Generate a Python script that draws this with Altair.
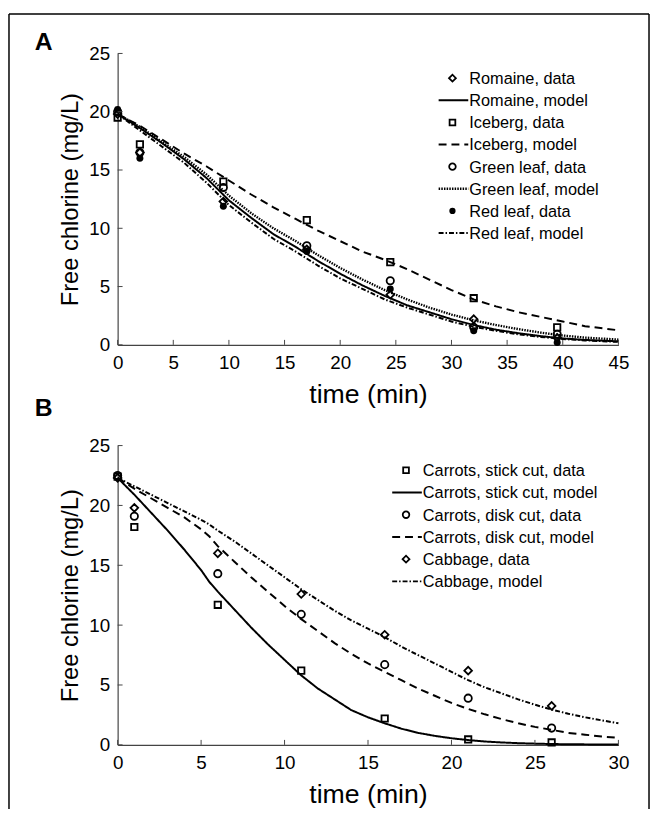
import altair as alt
import pandas as pd

FONT = "Liberation Sans"

# ---------------- Panel A data ----------------
a_time = [0, 2, 9.5, 17, 24.5, 32, 39.5]
a_romaine = [19.8, 16.5, 12.3, 8.2, 4.3, 2.2, 0.6]
a_iceberg = [19.5, 17.2, 14.0, 10.7, 7.1, 4.0, 1.5]
a_green = [20.0, 16.5, 13.5, 8.5, 5.5, 1.5, 0.9]
a_red = [20.2, 16.0, 11.9, 8.0, 4.8, 1.2, 0.2]

a_model_time = [0, 2, 4, 6, 8, 10, 12, 14, 16, 18, 20, 22, 24, 26, 28, 30, 32, 34, 36, 38, 40, 42, 45]
a_romaine_model = [19.8, 18.6, 17.3, 15.9, 14.3, 12.4, 10.9, 9.5, 8.4, 7.2, 6.1, 5.1, 4.2, 3.4, 2.8, 2.2, 1.7, 1.3, 1.0, 0.75, 0.55, 0.42, 0.3]
a_iceberg_model = [19.8, 18.8, 17.6, 16.4, 15.3, 14.1, 12.9, 11.8, 10.8, 9.8, 8.9, 8.0, 7.3, 6.5, 5.6, 4.7, 3.9, 3.3, 2.8, 2.4, 2.0, 1.6, 1.25]
a_green_model = [19.8, 18.7, 17.4, 16.1, 14.6, 12.8, 11.3, 10.0, 8.9, 7.7, 6.6, 5.6, 4.7, 3.9, 3.2, 2.6, 2.1, 1.7, 1.35, 1.05, 0.8, 0.62, 0.45]
a_red_model = [19.8, 18.4, 17.0, 15.6, 13.9, 12.0, 10.5, 9.1, 8.0, 6.8, 5.7, 4.8, 3.9, 3.2, 2.6, 2.0, 1.55, 1.2, 0.9, 0.68, 0.5, 0.38, 0.25]

a_legend = ["Romaine, data", "Romaine, model", "Iceberg, data", "Iceberg, model",
            "Green leaf, data", "Green leaf, model", "Red leaf, data", "Red leaf, model"]
a_xticks = [0, 5, 10, 15, 20, 25, 30, 35, 40, 45]

# ---------------- Panel B data ----------------
b_time = [0, 1, 6, 11, 16, 21, 26]
b_stick = [22.4, 18.2, 11.7, 6.2, 2.2, 0.45, 0.2]
b_disk = [22.5, 19.1, 14.3, 10.9, 6.7, 3.9, 1.4]
b_cabbage = [22.3, 19.8, 16.0, 12.6, 9.2, 6.2, 3.25]

b_model_time = [0, 1, 2, 3, 4, 5, 5.5, 6, 7, 8, 9, 10, 11, 12, 13, 14, 15, 16, 17, 18, 19, 20,
                21, 22, 23, 24, 25, 26, 27, 28, 29, 30]
b_stick_model = [22.3, 20.9, 19.4, 17.9, 16.3, 14.6, 13.6, 12.8, 11.3, 9.8, 8.4, 7.1, 5.8, 4.7, 3.8, 2.9,
                 2.3, 1.8, 1.35, 1.0, 0.75, 0.55, 0.4, 0.28, 0.2, 0.14, 0.1, 0.07, 0.05, 0.04, 0.03, 0.02]
b_disk_model = [22.3, 21.4, 20.6, 19.8, 19.0, 18.0, 17.4, 16.6, 15.3, 14.0, 12.8, 11.6, 10.5, 9.5, 8.5, 7.6,
                6.8, 6.1, 5.4, 4.7, 4.1, 3.5, 3.0, 2.55, 2.15, 1.8, 1.5, 1.25, 1.0, 0.85, 0.7, 0.58]
b_cabbage_model = [22.3, 21.6, 20.9, 20.2, 19.5, 18.8, 18.4, 17.9, 17.0, 16.0, 15.0, 14.0, 13.0, 12.1, 11.2, 10.4,
                   9.7, 9.0, 8.2, 7.5, 6.8, 6.1, 5.4, 4.8, 4.3, 3.8, 3.35, 2.95, 2.6, 2.3, 2.05, 1.8]

b_legend = ["Carrots, stick cut, data", "Carrots, stick cut, model", "Carrots, disk cut, data",
            "Carrots, disk cut, model", "Cabbage, data", "Cabbage, model"]
b_xticks = [0, 5, 10, 15, 20, 25, 30]

y_ticks = [0, 5, 10, 15, 20, 25]

# styles
MARK = {
    "diamond": dict(shape="diamond", filled=False, size=60),
    "square": dict(shape="square", filled=False, size=42),
    "circle": dict(shape="circle", filled=False, size=55),
    "dot": dict(shape="circle", filled=True, size=50),
}
DASH = {
    "solid": [1, 0],
    "dashed": [8, 5],
    "dotted": [1.5, 1.2],
    "dashdot": [5, 2, 1.5, 2],
}
ONE = pd.DataFrame({"k": [0]})


def panel(width, height, xmax, xticks, data_t, data_series, model_t, model_series,
          legend_labels, legend_styles, leg_x, leg_y, leg_dy, letter, border=False):
    xs = alt.Scale(domain=[0, xmax], nice=False, zero=False)
    ys = alt.Scale(domain=[0, 25], nice=False, zero=False)
    ax_x = alt.Axis(values=xticks, ticks=False, grid=False, domainColor="#444", domainWidth=1.2,
                    labelFont=FONT, labelFontSize=19, labelColor="black", labelPadding=9,
                    labelFlush=False, title="time (min)", titleFont=FONT, titleFontSize=27,
                    titleFontWeight="normal", titleColor="black", titlePadding=9)
    ax_y = alt.Axis(values=y_ticks, ticks=False, grid=False, domainColor="#444", domainWidth=1.2,
                    labelFont=FONT, labelFontSize=19, labelColor="black", labelPadding=8,
                    labelFlush=False, title="Free chlorine (mg/L)", titleFont=FONT, titleFontSize=24,
                    titleFontWeight="normal", titleColor="black", titlePadding=6)
    X = lambda f: alt.X(f, scale=xs, axis=ax_x)
    Y = lambda f: alt.Y(f, scale=ys, axis=ax_y)

    layers = []
    # model lines
    for vals, dash, sw in model_series:
        df = pd.DataFrame({"t": model_t, "v": vals})
        layers.append(alt.Chart(df).mark_line(color="black", strokeWidth=sw, strokeDash=DASH[dash])
                      .encode(x=X("t:Q"), y=Y("v:Q")))
    # data markers
    for vals, mk in data_series:
        df = pd.DataFrame({"t": data_t, "v": vals})
        m = MARK[mk]
        layers.append(alt.Chart(df).mark_point(shape=m["shape"], filled=m["filled"], size=m["size"],
                                               color="black", strokeWidth=1.8, opacity=1)
                      .encode(x=X("t:Q"), y=Y("v:Q")))
    # inward ticks
    dfx = pd.DataFrame({"t": xticks})
    layers.append(alt.Chart(dfx).mark_rule(color="#444", strokeWidth=1)
                  .encode(x=X("t:Q"), y=alt.value(height), y2=alt.value(height - 5)))
    dfy = pd.DataFrame({"v": y_ticks})
    layers.append(alt.Chart(dfy).mark_rule(color="#444", strokeWidth=1)
                  .encode(y=Y("v:Q"), x=alt.value(0), x2=alt.value(5)))
    # legend
    for i, (lab, sty) in enumerate(zip(legend_labels, legend_styles)):
        yy = leg_y + i * leg_dy
        layers.append(alt.Chart(ONE).mark_text(align="left", baseline="middle", font=FONT,
                                               fontSize=16.5, color="black")
                      .encode(x=alt.value(leg_x + 1), y=alt.value(yy + 1), text=alt.value(lab)))
        kind, s = sty
        if kind == "mark":
            m = MARK[s]
            layers.append(alt.Chart(ONE).mark_point(shape=m["shape"], filled=m["filled"], size=m["size"] * 0.8,
                                                    color="black", strokeWidth=1.8, opacity=1)
                          .encode(x=alt.value(leg_x - 16), y=alt.value(yy)))
        else:
            dash, sw = s
            layers.append(alt.Chart(ONE).mark_rule(color="black", strokeWidth=sw, strokeDash=DASH[dash])
                          .encode(x=alt.value(leg_x - 30), x2=alt.value(leg_x), y=alt.value(yy)))
    # panel letter
    layers.append(alt.Chart(ONE).mark_text(align="center", baseline="middle", font=FONT, fontSize=25,
                                           fontWeight="bold", color="black")
                  .encode(x=alt.value(-75), y=alt.value(letter[1]), text=alt.value(letter[0])))
    if border:
        for enc in [dict(x=alt.value(-110), y=alt.value(-40), y2=alt.value(765)),
                    dict(x=alt.value(-110), x2=alt.value(538), y=alt.value(-40)),
                    dict(x=alt.value(538), y=alt.value(-40), y2=alt.value(765))]:
            layers.append(alt.Chart(ONE).mark_rule(color="black", strokeWidth=1.5).encode(**enc))
    return alt.layer(*layers).properties(width=width, height=height)


a_styles = [("mark", "diamond"), ("line", ("solid", 2)), ("mark", "square"), ("line", ("dashed", 2)),
            ("mark", "circle"), ("line", ("dotted", 2.4)), ("mark", "dot"), ("line", ("dashdot", 2))]
b_styles = [("mark", "square"), ("line", ("solid", 2)), ("mark", "circle"), ("line", ("dashed", 2)),
            ("mark", "diamond"), ("line", ("dashdot", 2))]

pa = panel(507, 295, 45, a_xticks, a_time,
           [(a_romaine, "diamond"), (a_iceberg, "square"), (a_green, "circle"), (a_red, "dot")],
           a_model_time,
           [(a_romaine_model, "solid", 2), (a_iceberg_model, "dashed", 2),
            (a_green_model, "dotted", 2.4), (a_red_model, "dashdot", 2)],
           a_legend, a_styles, 355, 25, 22.4, ("A", -11), border=True)

pb = panel(507, 303, 30, b_xticks, b_time,
           [(b_stick, "square"), (b_disk, "circle"), (b_cabbage, "diamond")],
           b_model_time,
           [(b_stick_model, "solid", 2), (b_disk_model, "dashed", 2), (b_cabbage_model, "dashdot", 2)],
           b_legend, b_styles, 308, 25, 22.5, ("B", -38))

chart = alt.vconcat(pa, pb, spacing=102, bounds="flush").properties(padding=0).configure_view(stroke=None)

chart.save("out.html", embed_options={"renderer": "svg", "actions": False})
